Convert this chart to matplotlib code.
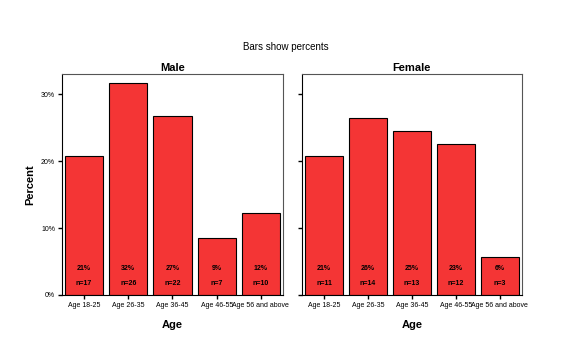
import matplotlib
matplotlib.use("Agg")
import matplotlib.pyplot as plt
import matplotlib.transforms as mtransforms

categories = ["Age 18-25", "Age 26-35", "Age 36-45", "Age 46-55", "Age 56 and above"]
male_pct = [20.7, 31.7, 26.8, 8.5, 12.2]
male_n = [17, 26, 22, 7, 10]
female_pct = [20.8, 26.4, 24.5, 22.6, 5.7]
female_n = [11, 14, 13, 12, 3]
yticks = [0, 10, 20, 30]
ytick_labels = ["0%", "10%", "20%", "30%"]

plt.rcParams['font.family'] = ['Liberation Sans', 'DejaVu Sans']

fig = plt.figure(figsize=(5.71, 3.57), dpi=100)
bar_color = "#F43535"

panels = [("Male", male_pct, male_n, [0.1086, 0.1737, 0.387, 0.619]),
          ("Female", female_pct, female_n, [0.5289, 0.1737, 0.385, 0.619])]

for i, (title, pct, ns, rect) in enumerate(panels):
    ax = fig.add_axes(rect)
    x = list(range(len(categories)))
    ax.bar(x, pct, width=0.86, color=bar_color, edgecolor="black", linewidth=0.8)
    ax.set_xlim(-0.5, 4.5)
    ax.set_ylim(0, 33)
    ax.set_yticks(yticks)
    if i == 0:
        ax.set_yticklabels(ytick_labels, fontsize=5)
        ax.set_ylabel("Percent", fontsize=8, fontweight="bold", labelpad=4)
    else:
        ax.set_yticklabels([])
    ax.set_xticks(x)
    ax.set_xticklabels(categories, fontsize=5)
    ax.tick_params(axis="both", direction="out", length=3, width=1, color="black", pad=2)
    ax.set_title(title, fontsize=8, fontweight="bold", pad=2)
    ax.set_xlabel("Age", fontsize=8, fontweight="bold", labelpad=8)
    for sp in ax.spines.values():
        sp.set_color("#555555")
        sp.set_linewidth(0.8)
    ax.spines["left"].set_color("black")
    ax.spines["bottom"].set_color("black")
    trans = mtransforms.blended_transform_factory(ax.transData, ax.transAxes)
    for xi, p, n in zip(x, pct, ns):
        ax.text(xi, 0.122, f"{int(p + 0.5):d}%", transform=trans, ha="center", va="center",
                fontsize=5, fontweight="bold")
        ax.text(xi, 0.05, f"n={n}", transform=trans, ha="center", va="center",
                fontsize=5, fontweight="bold")

fig.text(0.5, 1 - 47 / 357, "Bars show percents", ha="center", va="center", fontsize=7)

fig.savefig("out.png", dpi=100)
